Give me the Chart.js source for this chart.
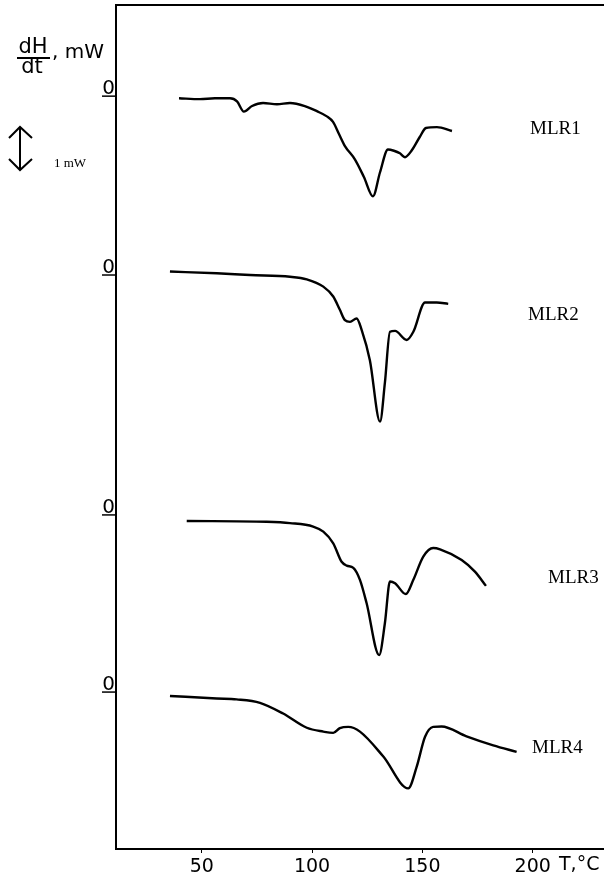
<!DOCTYPE html>
<html>
<head>
<meta charset="utf-8">
<script src="https://cdn.jsdelivr.net/npm/chart.js@4/dist/chart.umd.min.js"></script>
<style>
  html, body { margin: 0; padding: 0; background: #fff; }
</style>
</head>
<body>
<canvas id="dscChart" width="604" height="877"></canvas>
<script>
const mlr1Temp = [39.7, 49.2, 56.0, 62.8, 66.0, 69.1, 72.8, 77.8, 84.1, 90.0, 96.7, 102.2, 106.7, 109.5, 112.2, 114.9, 119.4, 123.5, 127.6, 130.8, 134.4, 137.1, 139.8, 142.1, 145.2, 148.8, 151.6, 156.6, 163.4];
const mlr1Heat = [-0.05, -0.07, -0.05, -0.05, -0.12, -0.36, -0.23, -0.16, -0.19, -0.16, -0.23, -0.35, -0.47, -0.60, -0.88, -1.16, -1.47, -1.88, -2.33, -1.77, -1.24, -1.27, -1.33, -1.42, -1.26, -0.95, -0.74, -0.72, -0.81];

const mlr2Temp = [35.6, 56.8, 71.9, 90.0, 97.6, 105.1, 109.6, 112.6, 114.9, 117.2, 120.2, 122.5, 126.2, 130.8, 133.0, 135.3, 137.6, 142.9, 145.9, 151.2, 156.5, 161.7];
const mlr2Heat = [0.08, 0.04, 0.0, -0.04, -0.10, -0.27, -0.50, -0.81, -1.05, -1.09, -1.01, -1.28, -1.98, -3.41, -2.51, -1.32, -1.30, -1.51, -1.32, -0.64, -0.64, -0.67];

const mlr3Temp = [43.2, 79.4, 90.0, 100.5, 105.1, 109.6, 113.4, 115.7, 118.7, 121.7, 124.7, 130.4, 133.0, 135.3, 137.6, 142.5, 145.9, 150.4, 154.9, 158.0, 167.8, 173.8, 178.8];
const mlr3Heat = [-0.14, -0.16, -0.19, -0.27, -0.39, -0.66, -1.09, -1.18, -1.23, -1.51, -2.05, -3.26, -2.52, -1.55, -1.59, -1.84, -1.51, -0.97, -0.77, -0.80, -1.05, -1.32, -1.65];

const mlr4Temp = [35.6, 56.8, 65.8, 76.4, 86.9, 97.6, 105.1, 109.6, 112.6, 116.4, 121.7, 132.3, 143.6, 147.4, 151.2, 154.9, 158.7, 170.0, 182.1, 192.7];
const mlr4Heat = [-0.09, -0.15, -0.17, -0.25, -0.50, -0.83, -0.92, -0.95, -0.84, -0.81, -0.92, -1.50, -2.24, -1.74, -1.04, -0.81, -0.80, -1.03, -1.24, -1.39];

const sampleNames = ["MLR1", "MLR2", "MLR3", "MLR4"];
const zeroLevels = [17.51, 13.35, 7.77, 3.65]; // baseline of each trace on the shared mW axis
const xTickValues = [50, 100, 150, 200];

const temps = [mlr1Temp, mlr2Temp, mlr3Temp, mlr4Temp];
const heats = [mlr1Heat, mlr2Heat, mlr3Heat, mlr4Heat];

const datasets = sampleNames.map((name, i) => ({
  label: name,
  data: temps[i].map((t, k) => ({ x: t, y: zeroLevels[i] + heats[i][k] })),
  borderColor: "#000",
  borderWidth: 2.4,
  pointRadius: 0,
  cubicInterpolationMode: "monotone",
  fill: false,
}));

// texts around the plot: zero marks, sample names, axis captions, scale bar
const decorations = {
  id: "decorations",
  afterDraw(chart) {
    const ctx = chart.ctx;
    const area = chart.chartArea;
    const yScale = chart.scales.y;
    ctx.save();
    ctx.fillStyle = "#000";
    ctx.strokeStyle = "#000";

    // underlined zeros
    ctx.font = '20px "DejaVu Sans"';
    ctx.textAlign = "right";
    ctx.textBaseline = "alphabetic";
    ctx.lineWidth = 1.5;
    zeroLevels.forEach((z) => {
      const py = yScale.getPixelForValue(z);
      ctx.fillText("0", area.left - 1, py - 2);
      ctx.beginPath();
      ctx.moveTo(area.left - 14, py);
      ctx.lineTo(area.left, py);
      ctx.stroke();
    });

    // sample names
    ctx.font = '19px "Liberation Serif"';
    ctx.textAlign = "left";
    ctx.textBaseline = "middle";
    ctx.fillText("MLR1", 530, 129);
    ctx.fillText("MLR2", 528, 315);
    ctx.fillText("MLR3", 548, 578);
    ctx.fillText("MLR4", 532, 748);

    // y caption dH/dt , mW
    ctx.font = '21px "DejaVu Sans"';
    ctx.textAlign = "center";
    ctx.fillText("dH", 33, 48);
    ctx.fillText("dt", 32, 68);
    ctx.lineWidth = 1.8;
    ctx.beginPath();
    ctx.moveTo(17, 58);
    ctx.lineTo(50, 58);
    ctx.stroke();
    ctx.textAlign = "left";
    ctx.font = '20px "DejaVu Sans"';
    ctx.fillText(", mW", 52, 53);

    // x caption
    ctx.font = '19px "DejaVu Sans"';
    ctx.fillText("T,°C", 559, 865);

    // 1 mW scale bar
    ctx.lineWidth = 2;
    ctx.beginPath();
    ctx.moveTo(20, 127);
    ctx.lineTo(20, 170);
    ctx.moveTo(9, 138);
    ctx.lineTo(20, 127);
    ctx.lineTo(32, 138);
    ctx.moveTo(9, 159);
    ctx.lineTo(20, 170);
    ctx.lineTo(32, 159);
    ctx.stroke();
    ctx.font = '13px "Liberation Serif"';
    ctx.fillText("1 mW", 54, 164);
    ctx.restore();
  },
};

const ctx = document.getElementById("dscChart").getContext("2d");
const dscChart = new Chart(ctx, {
  type: "line",
  data: { datasets: datasets },
  options: {
    responsive: false,
    animation: false,
    layout: { padding: { left: 116, top: 5, right: 0, bottom: 0 } },
    plugins: { legend: { display: false }, tooltip: { enabled: false } },
    scales: {
      x: {
        type: "linear",
        min: 11.15,
        max: 232.3,
        afterBuildTicks: (scale) => {
          scale.ticks = xTickValues.map((v) => ({ value: v }));
        },
        afterFit: (scale) => { scale.height = 28; },
        grid: { display: true, drawOnChartArea: false, tickLength: 4, color: "#000" },
        border: { display: true, color: "#000", width: 2 },
        ticks: {
          color: "#000",
          padding: 3,
          maxRotation: 0,
          font: { family: "DejaVu Sans", size: 19 },
        },
      },
      xTop: {
        type: "linear",
        position: "top",
        min: 11.15,
        max: 232.3,
        afterFit: (scale) => { scale.height = 0; },
        grid: { display: false },
        border: { display: true, color: "#000", width: 2 },
        ticks: { display: false },
      },
      y: {
        type: "linear",
        min: 0,
        max: 19.63,
        afterFit: (scale) => { scale.width = 0; },
        grid: { display: false },
        border: { display: true, color: "#000", width: 2 },
        ticks: { display: false },
      },
    },
  },
  plugins: [decorations],
});
</script>
</body>
</html>
